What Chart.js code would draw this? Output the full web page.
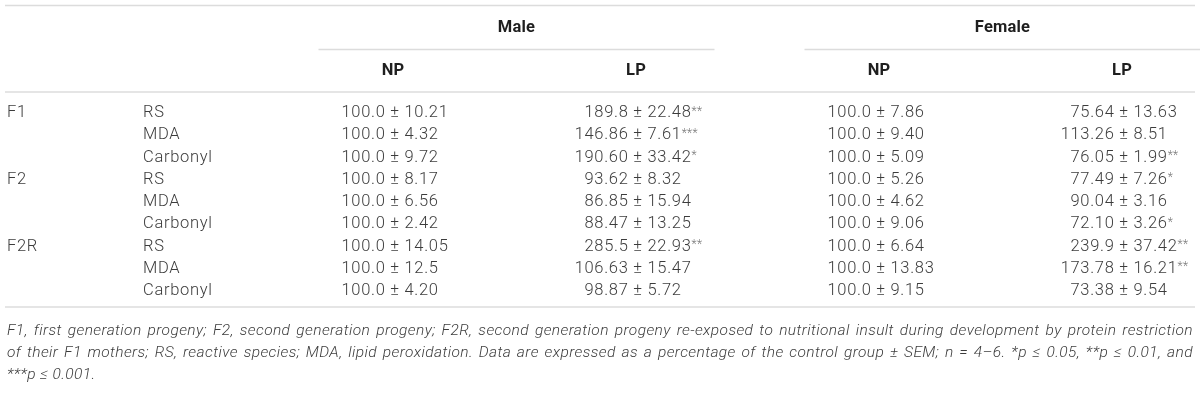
<!DOCTYPE html>
<html>
<head>
<meta charset="utf-8">
<title>Oxidative damage markers</title>
<script src="https://cdn.jsdelivr.net/npm/chart.js@4.4.1/dist/chart.umd.min.js"></script>
<style>
  html, body { margin: 0; padding: 0; background: #fff; }
  #wrap { position: relative; width: 1200px; height: 418px; }
</style>
</head>
<body>
<div id="wrap"><canvas id="tableChart"></canvas></div>
<script>
// Table contents
const groups = ['Male', 'Female'];
const columns = ['Male NP', 'Male LP', 'Female NP', 'Female LP'];
const columnLabels = ['NP', 'LP', 'NP', 'LP'];
const generations = ['F1', 'F1', 'F1', 'F2', 'F2', 'F2', 'F2R', 'F2R', 'F2R'];
const markers = ['RS', 'MDA', 'Carbonyl', 'RS', 'MDA', 'Carbonyl', 'RS', 'MDA', 'Carbonyl'];

const maleNPMean = ['100.0', '100.0', '100.0', '100.0', '100.0', '100.0', '100.0', '100.0', '100.0'];
const maleNPSem = ['10.21', '4.32', '9.72', '8.17', '6.56', '2.42', '14.05', '12.5', '4.20'];
const maleNPSig = ['', '', '', '', '', '', '', '', ''];

const maleLPMean = ['189.8', '146.86', '190.60', '93.62', '86.85', '88.47', '285.5', '106.63', '98.87'];
const maleLPSem = ['22.48', '7.61', '33.42', '8.32', '15.94', '13.25', '22.93', '15.47', '5.72'];
const maleLPSig = ['**', '***', '*', '', '', '', '**', '', ''];

const femaleNPMean = ['100.0', '100.0', '100.0', '100.0', '100.0', '100.0', '100.0', '100.0', '100.0'];
const femaleNPSem = ['7.86', '9.40', '5.09', '5.26', '4.62', '9.06', '6.64', '13.83', '9.15'];
const femaleNPSig = ['', '', '', '', '', '', '', '', ''];

const femaleLPMean = ['75.64', '113.26', '76.05', '77.49', '90.04', '72.10', '239.9', '173.78', '73.38'];
const femaleLPSem = ['13.63', '8.51', '1.99', '7.26', '3.16', '3.26', '37.42', '16.21', '9.54'];
const femaleLPSig = ['', '', '**', '*', '', '*', '**', '**', ''];

const footnoteLines = [
  'F1, first generation progeny; F2, second generation progeny; F2R, second generation progeny re-exposed to nutritional insult during development by protein restriction',
  'of their F1 mothers; RS, reactive species; MDA, lipid peroxidation. Data are expressed as a percentage of the control group \u00b1 SEM; n = 4\u20136. *p \u2264 0.05, **p \u2264 0.01, and',
  '***p \u2264 0.001.'
];

const rowKeys = generations.map((g, i) => g + ' ' + markers[i]);

const cellText = [
  { mean: maleNPMean, sem: maleNPSem, sig: maleNPSig },
  { mean: maleLPMean, sem: maleLPSem, sig: maleLPSig },
  { mean: femaleNPMean, sem: femaleNPSem, sig: femaleNPSig },
  { mean: femaleLPMean, sem: femaleLPSem, sig: femaleLPSig }
];

const FONT = '"Roboto", "Liberation Sans", sans-serif';
const TEXT = '#3c3c3c';
const HEAD = '#1f1f1f';
const RULE = '#dcdcdc';

// draws the header, labels, cells and footnote on top of the (invisible) points
const tablePlugin = {
  id: 'tableText',
  afterDatasetsDraw(chart) {
    const ctx = chart.ctx;
    const xs = chart.scales.x;
    const ys = chart.scales.y;
    const firstRow = ys.getPixelForValue(0);
    const lastRow = ys.getPixelForValue(rowKeys.length - 1);
    const W = chart.width;

    ctx.save();
    ctx.textBaseline = 'middle';

    const hline = (y, x1, x2) => {
      ctx.strokeStyle = RULE;
      ctx.lineWidth = 1.5;
      ctx.beginPath();
      ctx.moveTo(x1, y);
      ctx.lineTo(x2, y);
      ctx.stroke();
    };

    // rules
    hline(5.5, 5, W - 5);
    hline(firstRow - 21, 5, W - 5);
    hline(lastRow + 16, 5, W - 5);

    // group headers with underline
    ctx.font = 'bold 16.5px ' + FONT;
    ctx.letterSpacing = '0.2px';
    ctx.fillStyle = HEAD;
    ctx.textAlign = 'center';
    groups.forEach((g, i) => {
      const a = xs.getPixelForValue(i * 2);
      const b = xs.getPixelForValue(i * 2 + 1);
      const mid = (a + b) / 2;
      ctx.fillText(g, mid, firstRow - 85);
      hline(firstRow - 63.5, mid - 198, mid + 198);
    });

    // column headers
    columnLabels.forEach((c, i) => {
      ctx.fillText(c, xs.getPixelForValue(i) - 2, firstRow - 42);
    });

    // row labels
    ctx.font = '300 16.5px ' + FONT;
    ctx.letterSpacing = '0.7px';
    ctx.fillStyle = TEXT;
    ctx.textAlign = 'left';
    rowKeys.forEach((k, i) => {
      const y = ys.getPixelForValue(i);
      if (i === 0 || generations[i] !== generations[i - 1]) {
        ctx.fillText(generations[i], 7, y);
      }
      ctx.fillText(markers[i], 143, y);
    });

    // cells, aligned on the ± sign at each point
    chart.data.datasets.forEach((ds, d) => {
      const meta = chart.getDatasetMeta(d);
      const src = cellText[d];
      meta.data.forEach((pt, i) => {
        ctx.font = '300 16.5px ' + FONT;
        ctx.letterSpacing = '0.7px';
        ctx.fillStyle = TEXT;
        const pm = '\u00b1';
        const half = ctx.measureText(pm).width / 2;
        ctx.textAlign = 'center';
        ctx.fillText(pm, pt.x, pt.y);
        ctx.textAlign = 'right';
        ctx.fillText(src.mean[i] + ' ', pt.x - half, pt.y);
        ctx.textAlign = 'left';
        const right = ' ' + src.sem[i];
        ctx.fillText(right, pt.x + half, pt.y);
        if (src.sig[i]) {
          const w = ctx.measureText(right).width;
          ctx.font = '300 12px ' + FONT;
          ctx.letterSpacing = '0.3px';
          ctx.fillStyle = '#777';
          ctx.fillText(src.sig[i], pt.x + half + w, pt.y - 1.5);
        }
      });
    });

    // footnote, first two lines justified
    ctx.font = 'italic 300 15.5px ' + FONT;
    ctx.letterSpacing = '0.4px';
    ctx.fillStyle = TEXT;
    ctx.textAlign = 'left';
    const left = 7, right = W - 7;
    footnoteLines.forEach((line, li) => {
      const y = lastRow + 40 + li * 22;
      if (li === footnoteLines.length - 1) {
        ctx.fillText(line, left, y);
        return;
      }
      const words = line.split(' ');
      const total = words.reduce((s, w) => s + ctx.measureText(w).width, 0);
      const gap = Math.max(3, (right - left - total) / (words.length - 1));
      let x = left;
      words.forEach(w => {
        ctx.fillText(w, x, y);
        x += ctx.measureText(w).width + gap;
      });
    });

    ctx.restore();
  }
};

new Chart(document.getElementById('tableChart'), {
  type: 'scatter',
  data: {
    datasets: columns.map((c, d) => ({
      label: c,
      data: rowKeys.map(k => ({ x: c, y: k })),
      pointRadius: 0,
      pointHoverRadius: 0,
      showLine: false
    }))
  },
  options: {
    responsive: true,
    maintainAspectRatio: false,
    animation: false,
    events: [],
    layout: { padding: { left: 395, right: 76, top: 113, bottom: 127 } },
    plugins: { legend: { display: false }, tooltip: { enabled: false } },
    scales: {
      x: { type: 'category', labels: columns, offset: false, display: false },
      y: { type: 'category', labels: rowKeys, offset: false, display: false }
    }
  },
  plugins: [tablePlugin]
});
</script>
</body>
</html>
